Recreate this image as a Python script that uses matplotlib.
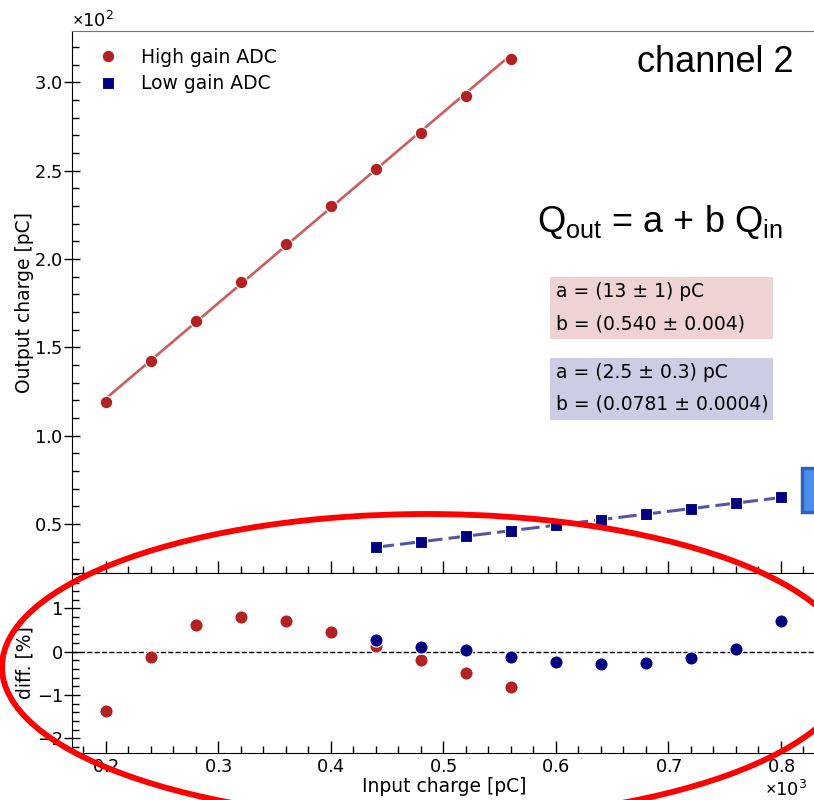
import matplotlib
matplotlib.use("Agg")
import matplotlib.pyplot as plt
import numpy as np
from matplotlib.patches import Ellipse, Rectangle
from matplotlib.ticker import AutoMinorLocator, MultipleLocator

plt.rcParams['mathtext.fontset'] = 'custom'
plt.rcParams['mathtext.rm'] = 'Liberation Sans'
plt.rcParams['mathtext.it'] = 'Liberation Sans:italic'

# measured points, channel 2
q_in_high = [200, 240, 280, 320, 360, 400, 440, 480, 520, 560]
q_out_high = [119.3, 142.2, 164.9, 187.0, 208.7, 229.8, 250.7, 271.5, 292.3, 312.9]
q_in_low = [440, 480, 520, 560, 600, 640, 680, 720, 760, 800]
q_out_low = [36.9, 40.0, 43.1, 46.2, 49.2, 52.3, 55.5, 58.6, 61.9, 65.4]

# relative deviation from the linear fit [%]
diff_high = [-1.36, -0.12, 0.62, 0.81, 0.70, 0.46, 0.13, -0.19, -0.49, -0.82]
diff_low = [0.27, 0.12, 0.03, -0.11, -0.24, -0.29, -0.27, -0.15, 0.07, 0.71]

# fit results Q_out = a + b Q_in
a_high, b_high = 13, 0.540
a_low, b_low = 2.5, 0.0781

c_high = '#b22222'
c_low = '#000080'
fs = 13.5
fs_tick = 12.8

W, H = 814, 800
fig = plt.figure(figsize=(W / 100, H / 100), dpi=100)


def px_axes(l, r, t, b):
    return fig.add_axes([l / W, 1 - b / H, (r - l) / W, (b - t) / H])


ax = px_axes(72, 817, 31, 573)
axr = px_axes(72, 817, 573, 753)

# fit lines
xh = np.array([q_in_high[0], q_in_high[-1]])
xl = np.array([q_in_low[0], q_in_low[-1]])
ax.plot(xh, a_high + b_high * xh, color='#cd5c5c', lw=1.9, zorder=2)
ax.plot(xl, a_low + b_low * xl, color='#5555a8', lw=2.2, ls=(0, (6, 2)), zorder=2)

ax.plot(q_in_high, q_out_high, 'o', color=c_high, ms=9, mec='white', mew=0.8,
        label='High gain ADC', zorder=3)
ax.plot(q_in_low, q_out_low, 's', color=c_low, ms=8.5, mec='white', mew=0.8,
        label='Low gain ADC', zorder=3)

ax.set_xlim(170, 832.2)
ax.set_ylim(22.3, 329)
ax.set_ylabel('Output charge [pC]', fontsize=fs)
ax.yaxis.set_label_coords(-0.0505, 0.5)
ax.ticklabel_format(axis='y', style='sci', scilimits=(2, 2), useMathText=True)
ax.yaxis.set_major_locator(MultipleLocator(50))
ax.yaxis.set_minor_locator(AutoMinorLocator(5))
ax.xaxis.set_minor_locator(AutoMinorLocator(5))
ax.tick_params(axis='x', labelbottom=False)
ax.spines['top'].set_color('0.45')

ax.legend(loc='upper left', frameon=False, fontsize=fs, numpoints=1,
          handlelength=2.0, handletextpad=0.8, labelspacing=0.4)

ax.text(0.969, 0.924, 'channel 2', transform=ax.transAxes, ha='right',
        va='baseline', fontsize=26, family='Liberation Sans')
ax.text(0.7895, 0.629, r'$\mathrm{Q}_{\mathrm{out}}$ = a + b $\mathrm{Q}_{\mathrm{in}}$',
        transform=ax.transAxes, ha='center', va='baseline', fontsize=26,
        family='Liberation Sans')

# fit parameter boxes
ax.add_patch(Rectangle((0.6416, 0.4317), 0.2993, 0.1144, transform=ax.transAxes,
                       facecolor=c_high, alpha=0.2, edgecolor='none', zorder=1))
ax.add_patch(Rectangle((0.6416, 0.2823), 0.2993, 0.1144, transform=ax.transAxes,
                       facecolor=c_low, alpha=0.2, edgecolor='none', zorder=1))
ax.text(0.6497, 0.5185, 'a = (%g ± %g) pC' % (a_high, 1), transform=ax.transAxes,
        va='center', fontsize=fs)
ax.text(0.6497, 0.4594, 'b = (%.3f ± 0.004)' % b_high, transform=ax.transAxes,
        va='center', fontsize=fs)
ax.text(0.6497, 0.3696, 'a = (%g ± 0.3) pC' % a_low, transform=ax.transAxes,
        va='center', fontsize=fs)
ax.text(0.6497, 0.3113, 'b = (%.4f ± 0.0004)' % b_low, transform=ax.transAxes,
        va='center', fontsize=fs)

# residuals
axr.axhline(0, color='black', lw=1, ls='--', zorder=1)
axr.plot(q_in_high, diff_high, 'o', color=c_high, ms=9.5, mec='white', mew=0.8, zorder=3)
axr.plot(q_in_low, diff_low, 'o', color=c_low, ms=9.5, mec='white', mew=0.8, zorder=4)
axr.set_xlim(170, 832.2)
axr.set_ylim(-2.34, 1.82)
axr.yaxis.set_major_locator(MultipleLocator(1))
axr.yaxis.set_minor_locator(AutoMinorLocator(5))
axr.xaxis.set_minor_locator(AutoMinorLocator(5))
axr.ticklabel_format(axis='x', style='sci', scilimits=(3, 3), useMathText=True)
axr.set_xlabel('Input charge [pC]', fontsize=fs, labelpad=1)
axr.set_ylabel('diff. [%]', fontsize=fs)
axr.yaxis.set_label_coords(-0.0505, 0.5)
axr.xaxis.get_offset_text().set_x(0.986)

for a in (ax, axr):
    a.tick_params(axis='y', which='major', direction='inout', length=11, width=1,
                  labelsize=fs_tick, pad=1)
    a.tick_params(axis='y', which='minor', direction='in', length=5, width=1)
    a.tick_params(axis='x', which='major', direction='in', length=9, width=1,
                  labelsize=fs_tick)
    a.tick_params(axis='x', which='minor', direction='in', length=5, width=1)
    a.yaxis.get_offset_text().set_fontsize(fs_tick)
    a.xaxis.get_offset_text().set_fontsize(fs_tick)

# highlight around the residual panel
fig.patches.append(Ellipse((427 / W, 1 - 667 / H), 850 / W, 306 / H,
                           transform=fig.transFigure, fill=False,
                           edgecolor='#ff0000', lw=4.2, zorder=10))
fig.patches.append(Rectangle((802 / W, 1 - 512 / H), 30 / W, 44 / H,
                             transform=fig.transFigure, facecolor='#4a8fea',
                             edgecolor='#2f62b8', lw=2.5, zorder=10))

fig.savefig('out.png', dpi=100)
